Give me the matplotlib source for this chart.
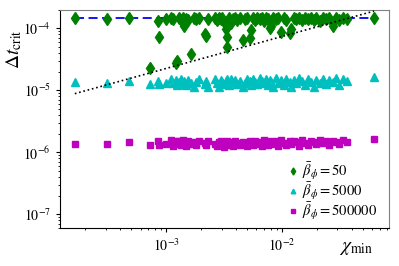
import matplotlib
matplotlib.use('Agg')
import matplotlib.pyplot as plt

plt.rcParams['font.family'] = 'STIXGeneral'
plt.rcParams['mathtext.fontset'] = 'stix'

# chi_min values of the runs (shared by the three series)
chi_min = [1.62e-4, 3.07e-4, 4.78e-4, 7.27e-4, 8.45e-4, 8.6e-4, 9.9e-4,
           1.10e-3, 1.15e-3, 1.21e-3, 1.24e-3, 1.28e-3, 1.33e-3, 1.38e-3,
           1.43e-3, 1.48e-3, 1.55e-3, 1.64e-3, 1.72e-3, 1.82e-3, 1.90e-3,
           2.15e-3, 2.21e-3, 2.30e-3, 2.65e-3, 2.75e-3, 2.85e-3, 2.95e-3,
           3.05e-3, 3.15e-3, 3.29e-3, 3.31e-3, 3.33e-3, 3.45e-3, 3.63e-3,
           3.80e-3, 3.95e-3, 4.10e-3, 4.30e-3, 4.58e-3, 4.75e-3, 5.00e-3,
           5.23e-3, 5.41e-3, 5.60e-3, 5.85e-3, 6.10e-3, 6.40e-3, 6.70e-3,
           7.00e-3, 7.30e-3, 7.55e-3, 7.80e-3, 8.06e-3, 8.40e-3, 8.80e-3,
           9.20e-3, 9.84e-3, 1.03e-2, 1.08e-2, 1.16e-2, 1.20e-2, 1.26e-2,
           1.33e-2, 1.40e-2, 1.48e-2, 1.57e-2, 1.66e-2, 1.76e-2, 1.87e-2,
           1.98e-2, 2.11e-2, 2.25e-2, 2.40e-2, 2.55e-2, 2.75e-2, 2.90e-2,
           3.10e-2, 3.35e-2, 3.60e-2, 6.22e-2]

dt_50 = [1.45e-4, 1.42e-4, 1.46e-4, 2.25e-5, 1.30e-4, 7.1e-5, 1.42e-4,
         1.45e-4, 1.40e-4, 2.8e-5, 3.0e-5, 1.45e-4, 1.38e-4, 1.45e-4,
         1.10e-4, 1.42e-4, 1.35e-4, 3.8e-5, 1.45e-4, 1.40e-4, 1.45e-4,
         8.0e-5, 7.6e-5, 1.42e-4, 1.45e-4, 1.35e-4, 1.45e-4, 1.40e-4,
         1.45e-4, 1.25e-4, 9.7e-5, 7.1e-5, 5.0e-5, 1.45e-4, 1.20e-4,
         1.42e-4, 1.45e-4, 1.38e-4, 1.45e-4, 6.5e-5, 1.40e-4, 1.45e-4,
         7.0e-5, 9.4e-5, 1.45e-4, 1.35e-4, 1.45e-4, 1.40e-4, 1.45e-4,
         1.30e-4, 1.45e-4, 1.42e-4, 1.00e-4, 1.10e-4, 1.45e-4, 1.40e-4,
         1.45e-4, 8.6e-5, 1.45e-4, 1.38e-4, 8.3e-5, 9.7e-5, 1.45e-4,
         1.40e-4, 1.45e-4, 1.35e-4, 1.45e-4, 1.42e-4, 1.45e-4, 1.38e-4,
         1.45e-4, 1.30e-4, 1.45e-4, 1.40e-4, 1.45e-4, 1.10e-4, 1.45e-4,
         1.38e-4, 1.45e-4, 1.42e-4, 1.45e-4]

dt_5000 = [1.35e-5, 1.33e-5, 1.42e-5, 1.25e-5, 1.40e-5, 1.28e-5, 1.32e-5,
           1.55e-5, 1.30e-5, 1.45e-5, 1.20e-5, 1.35e-5, 1.50e-5, 1.25e-5,
           1.40e-5, 1.20e-5, 1.45e-5, 1.30e-5, 1.15e-5, 1.35e-5, 1.50e-5,
           1.25e-5, 1.40e-5, 1.15e-5, 1.55e-5, 1.30e-5, 1.15e-5, 1.45e-5,
           1.35e-5, 1.25e-5, 1.40e-5, 1.50e-5, 1.30e-5, 1.20e-5, 1.55e-5,
           1.35e-5, 1.45e-5, 1.25e-5, 1.40e-5, 1.15e-5, 1.30e-5, 1.50e-5,
           1.40e-5, 1.20e-5, 1.55e-5, 1.35e-5, 1.25e-5, 1.60e-5, 1.40e-5,
           1.30e-5, 1.55e-5, 1.20e-5, 1.45e-5, 1.35e-5, 1.15e-5, 1.60e-5,
           1.30e-5, 1.45e-5, 1.20e-5, 1.55e-5, 1.35e-5, 1.15e-5, 1.45e-5,
           1.30e-5, 1.60e-5, 1.40e-5, 1.20e-5, 1.50e-5, 1.35e-5, 1.15e-5,
           1.45e-5, 1.30e-5, 1.55e-5, 1.25e-5, 1.45e-5, 1.35e-5, 1.60e-5,
           1.20e-5, 1.50e-5, 1.40e-5, 1.65e-5]

dt_500000 = [1.38e-6, 1.35e-6, 1.45e-6, 1.30e-6, 1.55e-6, 1.30e-6, 1.36e-6,
             1.60e-6, 1.25e-6, 1.50e-6, 1.35e-6, 1.55e-6, 1.30e-6, 1.60e-6,
             1.40e-6, 1.28e-6, 1.50e-6, 1.35e-6, 1.45e-6, 1.30e-6, 1.55e-6,
             1.40e-6, 1.30e-6, 1.50e-6, 1.35e-6, 1.25e-6, 1.45e-6, 1.55e-6,
             1.30e-6, 1.20e-6, 1.40e-6, 1.35e-6, 1.50e-6, 1.30e-6, 1.45e-6,
             1.25e-6, 1.55e-6, 1.40e-6, 1.30e-6, 1.45e-6, 1.35e-6, 1.25e-6,
             1.50e-6, 1.40e-6, 1.30e-6, 1.55e-6, 1.35e-6, 1.45e-6, 1.25e-6,
             1.60e-6, 1.40e-6, 1.30e-6, 1.50e-6, 1.35e-6, 1.45e-6, 1.55e-6,
             1.25e-6, 1.60e-6, 1.40e-6, 1.30e-6, 1.50e-6, 1.35e-6, 1.55e-6,
             1.45e-6, 1.25e-6, 1.60e-6, 1.40e-6, 1.30e-6, 1.55e-6, 1.45e-6,
             1.35e-6, 1.60e-6, 1.40e-6, 1.50e-6, 1.30e-6, 1.55e-6, 1.45e-6,
             1.35e-6, 1.60e-6, 1.45e-6, 1.67e-6]

labels = [r'$\bar{\beta}_\phi = 50$', r'$\bar{\beta}_\phi = 5000$',
          r'$\bar{\beta}_\phi = 500000$']

# reference lines
plateau_x = [1.62e-4, 6.22e-2]
plateau_y = [1.47e-4, 1.47e-4]
slope_x = [1.62e-4, 6.22e-2]
slope_y = [8.84e-6, 1.89e-4]

fig = plt.figure(figsize=(3.99, 2.66), dpi=100)
ax = fig.add_axes([0.150, 0.142, 0.825, 0.822])

ax.plot(plateau_x, plateau_y, 'b--', lw=1.3, dashes=(5, 2.5), zorder=1)
ax.plot(slope_x, slope_y, 'k:', lw=1.2, zorder=3)
ax.plot(chi_min, dt_50, 'gd', ms=6, label=labels[0], zorder=2)
ax.plot(chi_min, dt_5000, 'c^', ms=5.5, label=labels[1], zorder=2)
ax.plot(chi_min, dt_500000, 'ms', ms=5, label=labels[2], zorder=2)

ax.set_xscale('log')
ax.set_yscale('log')
ax.set_ylim(6e-8, 2e-4)

ax.set_xlabel(r'$\chi_{\rm min}$', fontsize=14)
ax.set_ylabel(r'$\Delta t_{\rm crit}$', fontsize=14)
ax.xaxis.set_label_coords(0.9, -0.055)
ax.yaxis.set_label_coords(-0.11, 0.82)

ax.tick_params(which='major', length=3, labelsize=10)
ax.tick_params(which='minor', length=1.5)
ax.spines['top'].set_color('gray')
ax.spines['right'].set_color('gray')

ax.legend(loc='lower right', bbox_to_anchor=(1.0, -0.025), frameon=False,
          fontsize=10.5, numpoints=1, markerscale=0.6, handlelength=0.5,
          handletextpad=0.35, labelspacing=-0.12, borderaxespad=0.4)

fig.savefig('out.png', dpi=100)
